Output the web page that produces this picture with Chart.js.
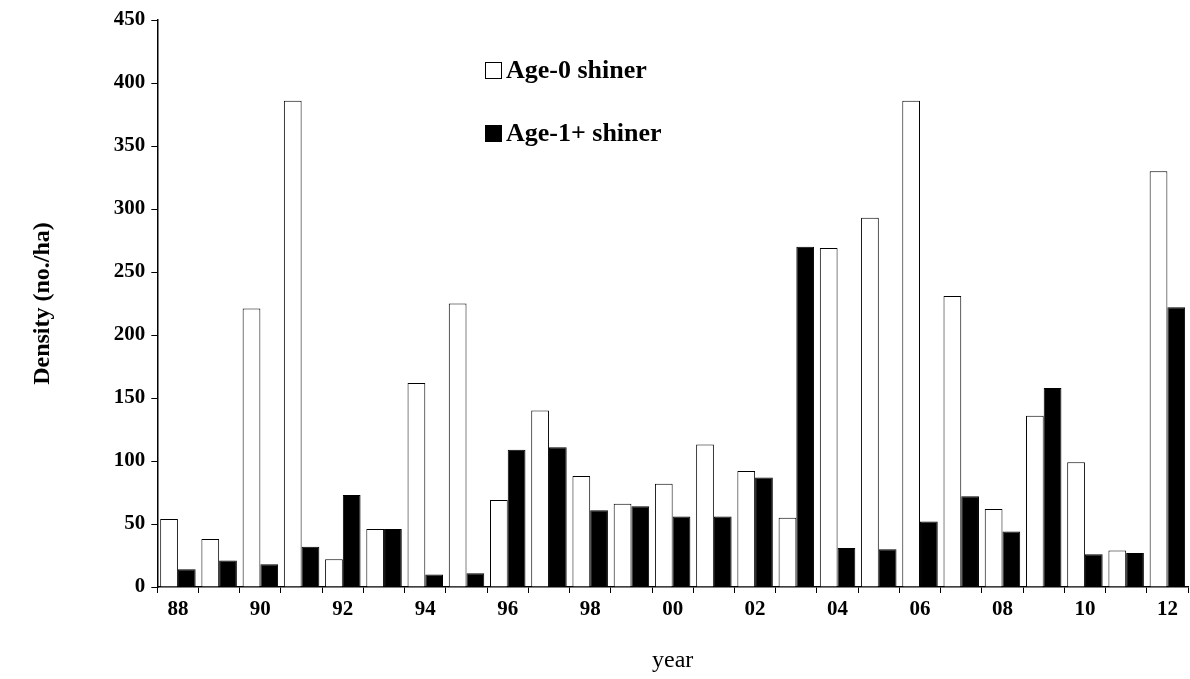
<!DOCTYPE html>
<html><head><meta charset="utf-8">
<script src="https://cdn.jsdelivr.net/npm/chart.js@4"></script>
<style>
body{margin:0;background:#fff;font-family:"Liberation Serif",serif}
#wrap{position:relative;width:1190px;height:679px}
.leg{position:absolute;font:bold 26px "Liberation Serif";display:flex;align-items:center}
.sw{width:15px;height:15px;border:1px solid #000;margin-right:4px}
</style></head><body>
<div id="wrap"><canvas id="c" width="1190" height="679"></canvas>
<div class="leg" style="left:485px;top:55px"><div class="sw" style="background:#fff"></div>Age-0 shiner</div>
<div class="leg" style="left:485px;top:118px"><div class="sw" style="background:#000"></div>Age-1+ shiner</div>
</div>
<script>
const years = ["88","89","90","91","92","93","94","95","96","97","98","99","00","01","02","03","04","05","06","07","08","09","10","11","12"];
const age0 = [54,38,221,386,22,46,162,225,69,140,88,66,82,113,92,55,269,293,386,231,62,136,99,29,330];
const age1 = [14,21,18,32,73,46,10,11,109,111,61,64,56,56,87,270,31,30,52,72,44,158,26,27,222];
const yTicks = [0,50,100,150,200,250,300,350,400,450];

Chart.defaults.font.family = "Liberation Serif";
new Chart(document.getElementById("c"), {
  type: "bar",
  data: {
    labels: years,
    datasets: [
      { label: "Age-0 shiner", data: age0, backgroundColor: "#fff", borderColor: "#000", borderWidth: 1 },
      { label: "Age-1+ shiner", data: age1, backgroundColor: "#000", borderColor: "#000", borderWidth: 1 }
    ]
  },
  options: {
    responsive: false, animation: false,
    layout: { padding: { top: 20, right: 2, left: 24, bottom: 0 } },
    datasets: { bar: { categoryPercentage: 0.86, barPercentage: 1 } },
    plugins: { legend: { display: false }, tooltip: { enabled: false } },
    scales: {
      x: {
        grid: { drawOnChartArea: false, tickLength: 6, color: "#000", offset: true },
        border: { color: "#000", width: 1.5 },
        ticks: { color: "#000", font: { size: 21, weight: "bold" }, autoSkip: false, maxRotation: 0, padding: 4,
          callback: (v, i) => i % 2 === 0 ? years[i] : "" },
        title: { display: true, text: "year", color: "#000", font: { size: 24 }, padding: { top: 20 } }
      },
      y: {
        min: 0, max: 450,
        afterBuildTicks: ax => { ax.ticks = yTicks.map(v => ({ value: v })); },
        grid: { drawOnChartArea: false, tickLength: 6, color: "#000" },
        border: { color: "#000", width: 1.5 },
        ticks: { color: "#000", font: { size: 21, weight: "bold" }, padding: 6 },
        title: { display: true, text: "Density (no./ha)", color: "#000", font: { size: 24, weight: "bold" }, padding: { bottom: 51 } }
      }
    }
  }
});
</script></body></html>
